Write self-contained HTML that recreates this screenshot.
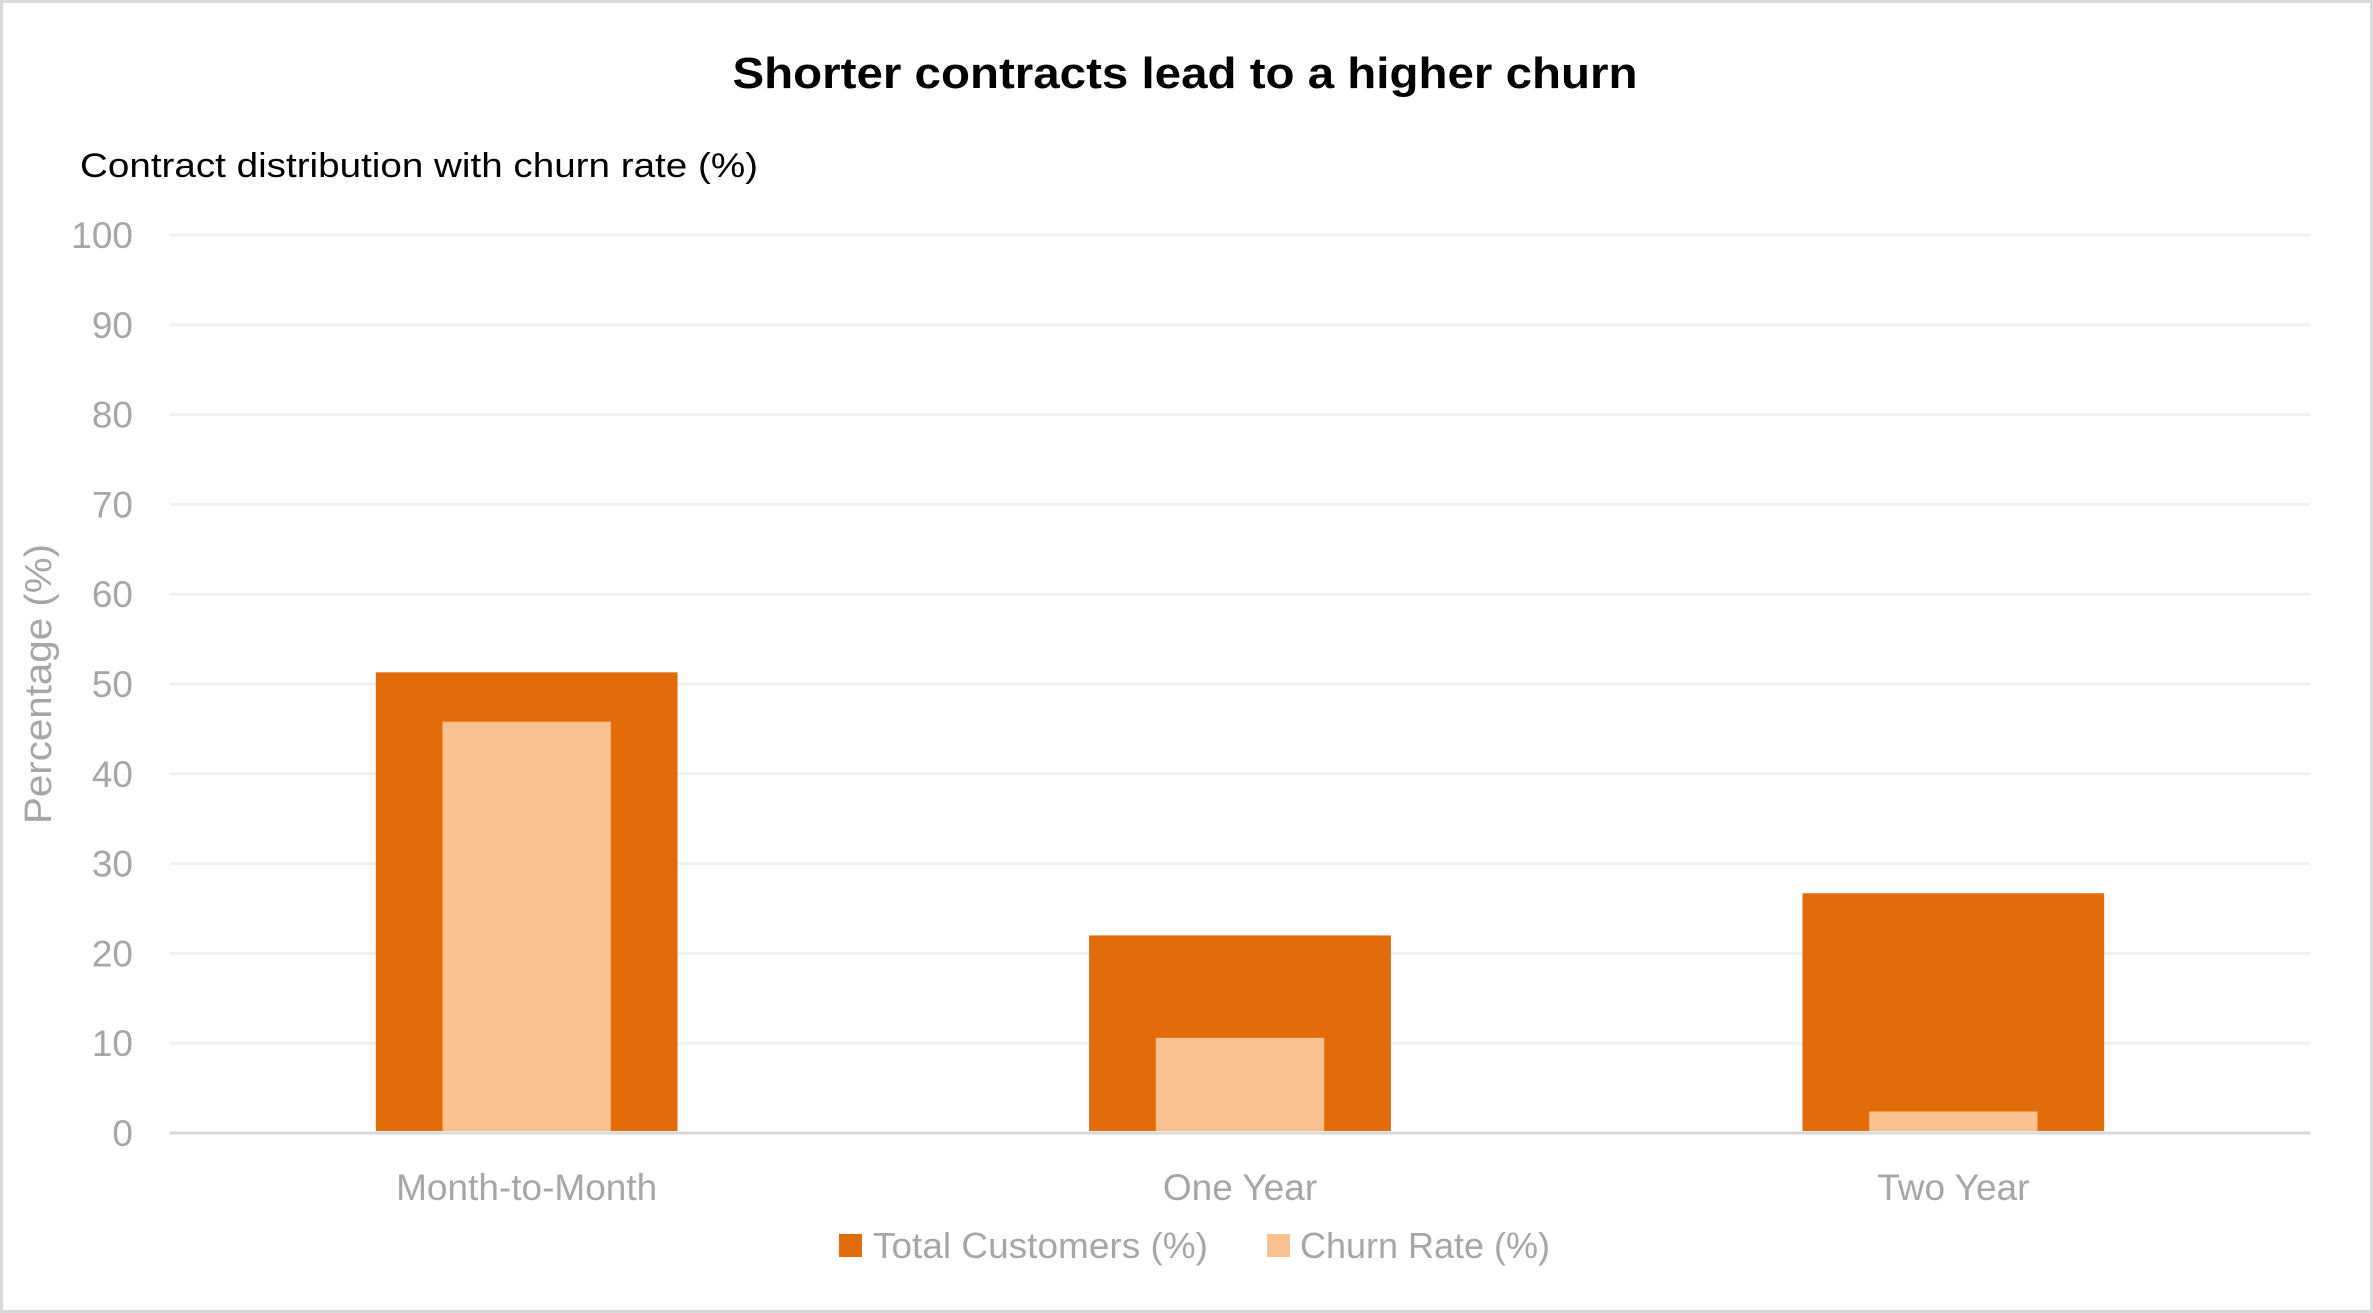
<!DOCTYPE html>
<html><head><meta charset="utf-8"><style>
html,body{margin:0;padding:0;background:#fff}
svg{display:block}
text{font-family:"Liberation Sans",sans-serif}
</style></head><body>
<svg id="chart" width="2373" height="1313" viewBox="0 0 2373 1313" xmlns="http://www.w3.org/2000/svg">
<rect x="1.5" y="1.5" width="2370" height="1310" fill="#fff" stroke="#d9d9d9" stroke-width="3"/>
<text x="1185" y="88" text-anchor="middle" font-size="44" font-weight="bold" fill="#000" textLength="905" lengthAdjust="spacingAndGlyphs">Shorter contracts lead to a higher churn</text>
<text x="80" y="177" font-size="34" fill="#000" textLength="678" lengthAdjust="spacingAndGlyphs">Contract distribution with churn rate (%)</text>
<text transform="translate(51,684) rotate(-90)" text-anchor="middle" font-size="38" fill="#a6a6a6" textLength="280" lengthAdjust="spacingAndGlyphs">Percentage (%)</text>
<g id="grid"></g><g id="bars"></g><g id="labels"></g>
<g>
<rect x="839" y="1234" width="23" height="23" fill="#e36c0a"/>
<text x="873" y="1258" font-size="36" fill="#a6a6a6" textLength="335" lengthAdjust="spacingAndGlyphs">Total Customers (%)</text>
<rect x="1267" y="1234" width="23" height="23" fill="#f9c090"/>
<text x="1300" y="1258" font-size="36" fill="#a6a6a6" textLength="250" lengthAdjust="spacingAndGlyphs">Churn Rate (%)</text>
</g>
</svg>
<script>
const categories = ["Month-to-Month", "One Year", "Two Year"];
const totalCustomers = [51.3, 22.0, 26.7];
const churnRate = [45.8, 10.6, 2.4];
const yTicks = [0, 10, 20, 30, 40, 50, 60, 70, 80, 90, 100];

const NS = "http://www.w3.org/2000/svg";
const left = 170, right = 2310, y0 = 1133, y100 = 235;
const band = (right - left) / categories.length;
const y = v => y0 - (y0 - y100) * v / 100;
const xc = i => left + band * (i + 0.5);
function mk(tag, attrs, parent) {
  const e = document.createElementNS(NS, tag);
  for (const k in attrs) e.setAttribute(k, attrs[k]);
  parent.appendChild(e);
  return e;
}
const grid = document.getElementById('grid');
const bars = document.getElementById('bars');
const labels = document.getElementById('labels');
yTicks.forEach(t => {
  const l = mk('line', {x1: left, x2: right, y1: y(t), y2: y(t), stroke: t === 0 ? '#d9d9d9' : '#f0f0f0', 'stroke-width': 3}, grid);
  
  
  const tx = mk('text', {x: 133, y: y(t) + 13, 'text-anchor': 'end', 'font-size': 37, fill: '#a6a6a6'}, labels);
  tx.textContent = t;
  
  
});
categories.forEach((c, i) => {
  const ow = band * 0.423, iw = band * 0.236;
  const r1 = mk('rect', {x: xc(i) - ow / 2, y: y(totalCustomers[i]), width: ow, height: y0 - 2 - y(totalCustomers[i]), fill: '#e36c0a'}, bars);
  
  
  const r2 = mk('rect', {x: xc(i) - iw / 2, y: y(churnRate[i]), width: iw, height: y0 - 2 - y(churnRate[i]), fill: '#f9c090'}, bars);
  
  
  const tx = mk('text', {x: xc(i), y: 1200, 'text-anchor': 'middle', 'font-size': 37, fill: '#a6a6a6'}, labels);
  tx.textContent = c;
  
  
});
</script>
</body></html>
